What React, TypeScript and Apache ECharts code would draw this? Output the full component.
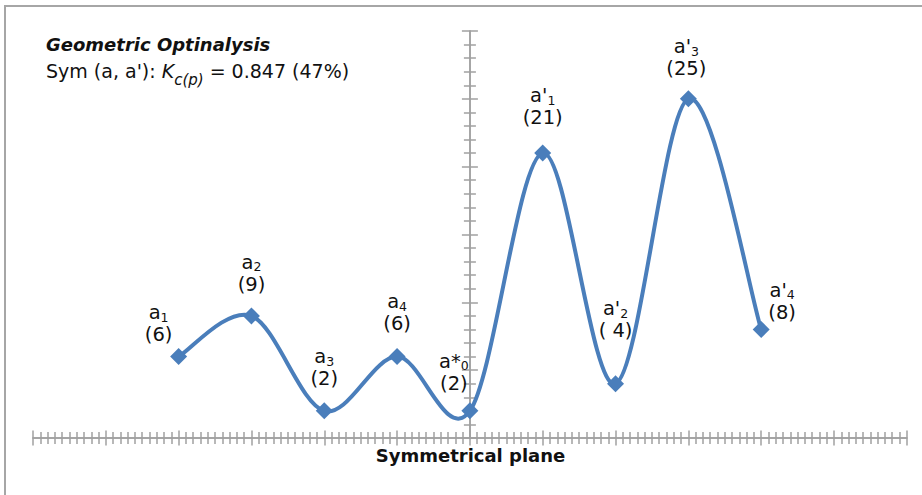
import React, { useEffect, useRef } from "react";
import * as echarts from "echarts";

// ---- data ----
const nameBase = ["a", "a", "a", "a", "a*", "a'", "a'", "a'", "a'"];
const nameSub = ["1", "2", "3", "4", "0", "1", "2", "3", "4"];
const xPositions = [-4, -3, -2, -1, 0, 1, 2, 3, 4];
const values = [6, 9, 2, 6, 2, 21, 4, 25, 8];
const valueTexts = ["(6)", "(9)", "(2)", "(6)", "(2)", "(21)", "( 4)", "(25)", "(8)"];
const xRange = [-6, 6];
const yRange = [0, 30];
const yMajor = 5;
const titleLine1 = "Geometric Optinalysis";
const titleLine2a = "Sym (a, a'): ";
const titleK = "K";
const titleKSub = "c(p)";
const titleLine2b = " = 0.847 (47%)";
const axisTitle = "Symmetrical plane";

// ---- styles (label placement tweaks) ----
const labelOffsets = [
  [-20, 9.5],
  [0, 0],
  [0, -0.4],
  [0, -1.5],
  [-16, 4],
  [0, -4],
  [0, -21.7],
  [-2, 1.4],
  [21, 14.2],
];

const FONT = '"DejaVu Sans", Verdana, sans-serif';
const BLUE = "#4a7ebb";
const AXIS = "#a0a0a0";
const TEXT = "#111111";

export default function App() {
  const ref = useRef<HTMLDivElement>(null);

  useEffect(() => {
    if (!ref.current) return;
    const chart = echarts.init(ref.current, undefined, { renderer: "svg" });

    const points = xPositions.map((x, i) => [x, values[i]]);

    const axisLine = (idx: number) => ({
      show: true,
      onZero: true,
      onZeroAxisIndex: idx,
      lineStyle: { color: AXIS, width: 1.5 },
    });

    const xAxisBase = (position: string) => ({
      type: "value",
      min: xRange[0],
      max: xRange[1],
      interval: 1,
      position,
      axisLine: axisLine(0),
      axisTick: { show: true, length: 7.5, lineStyle: { color: AXIS, width: 1.5 } },
      minorTick: { show: true, splitNumber: 10, length: 6, lineStyle: { color: AXIS, width: 1.5 } },
      axisLabel: { show: false },
      splitLine: { show: false },
      minorSplitLine: { show: false },
    });

    const yAxisBase = (position: string) => ({
      type: "value",
      min: yRange[0],
      max: yRange[1],
      interval: yMajor,
      position,
      axisLine: axisLine(0),
      axisTick: { show: true, length: 8, lineStyle: { color: AXIS, width: 1.5 } },
      minorTick: { show: true, splitNumber: 5, length: 6, lineStyle: { color: AXIS, width: 1.5 } },
      axisLabel: { show: false },
      splitLine: { show: false },
      minorSplitLine: { show: false },
    });

    const option: any = {
      animation: false,
      backgroundColor: "#ffffff",
      grid: { left: 33, right: 15.2, top: 31, bottom: 57, containLabel: false },
      title: {
        left: 46,
        top: 31,
        padding: 0,
        text:
          `{t|${titleLine1}}\n` +
          `{n|${titleLine2a}}{k|${titleK}}{s|${titleKSub}}{n|${titleLine2b}}`,
        textStyle: {
          fontWeight: "normal",
          rich: {
            t: {
              fontFamily: FONT,
              fontSize: 18,
              fontWeight: "bold",
              fontStyle: "italic",
              lineHeight: 26,
              color: TEXT,
            },
            n: { fontFamily: FONT, fontSize: 19, fontWeight: "normal", lineHeight: 27, color: TEXT },
            k: {
              fontFamily: FONT,
              fontSize: 19,
              fontWeight: "normal",
              fontStyle: "italic",
              lineHeight: 27,
              color: TEXT,
            },
            s: {
              fontFamily: FONT,
              fontSize: 15,
              fontWeight: "normal",
              fontStyle: "italic",
              lineHeight: 27,
              verticalAlign: "top",
              padding: [15.6, 0, 0, 0],
              color: TEXT,
            },
          },
        },
      },
      xAxis: [xAxisBase("bottom"), xAxisBase("top")],
      yAxis: [yAxisBase("left"), yAxisBase("right")],
      graphic: [
        {
          type: "rect",
          silent: true,
          z: -10,
          shape: { x: 5, y: 6, width: 1000, height: 1000 },
          style: { fill: "none", stroke: "#a6a6a6", lineWidth: 2 },
        },
        {
          type: "text",
          x: 470.5,
          y: 455.8,
          silent: true,
          style: {
            text: axisTitle,
            fontFamily: FONT,
            fontSize: 18,
            fontWeight: "bold",
            fill: TEXT,
            align: "center",
            verticalAlign: "middle",
            textAlign: "center",
            textVerticalAlign: "middle",
          },
        },
      ],
      series: [
        {
          type: "custom",
          xAxisIndex: 0,
          yAxisIndex: 0,
          silent: true,
          z: 3,
          encode: { x: 0, y: 1 },
          data: points,
          renderItem: (params: any, api: any) => {
            const i = params.dataIndexInside;
            const n = params.dataInsideLength;
            if (i === 0) return null;
            const pt = (j: number) => {
              const k = Math.max(0, Math.min(n - 1, j));
              return api.coord([api.value(0, k), api.value(1, k)]);
            };
            const p0 = pt(i - 2);
            const p1 = pt(i - 1);
            const p2 = pt(i);
            const p3 = pt(i + 1);
            return {
              type: "bezierCurve",
              shape: {
                x1: p1[0],
                y1: p1[1],
                x2: p2[0],
                y2: p2[1],
                cpx1: p1[0] + (p2[0] - p0[0]) / 6,
                cpy1: p1[1] + (p2[1] - p0[1]) / 6,
                cpx2: p2[0] - (p3[0] - p1[0]) / 6,
                cpy2: p2[1] - (p3[1] - p1[1]) / 6,
              },
              style: { stroke: BLUE, lineWidth: 4, fill: "none", lineCap: "round" },
            };
          },
        },
        {
          type: "scatter",
          xAxisIndex: 0,
          yAxisIndex: 0,
          z: 4,
          symbol: "diamond",
          symbolSize: 17,
          itemStyle: { color: BLUE, opacity: 1 },
          data: points.map((p, i) => ({
            value: p,
            label: { offset: labelOffsets[i] },
          })),
          label: {
            show: true,
            position: "top",
            distance: 12,
            formatter: (params: any) => {
              const i = params.dataIndex;
              return `{a|${nameBase[i]}}{s|${nameSub[i]}}\n{v|${valueTexts[i]}}`;
            },
            rich: {
              a: { fontFamily: FONT, fontSize: 19.5, lineHeight: 22, color: TEXT },
              s: {
                fontFamily: FONT,
                fontSize: 12.5,
                lineHeight: 22,
                verticalAlign: "bottom",
                color: TEXT,
              },
              v: { fontFamily: FONT, fontSize: 19.5, lineHeight: 22, color: TEXT },
            },
          },
          emphasis: { disabled: true },
        },
      ],
    };

    chart.setOption(option);
    return () => chart.dispose();
  }, []);

  return (
    <div
      ref={ref}
      style={{ position: "absolute", left: 0, top: 0, width: 922, height: 495, background: "#fff" }}
    />
  );
}
